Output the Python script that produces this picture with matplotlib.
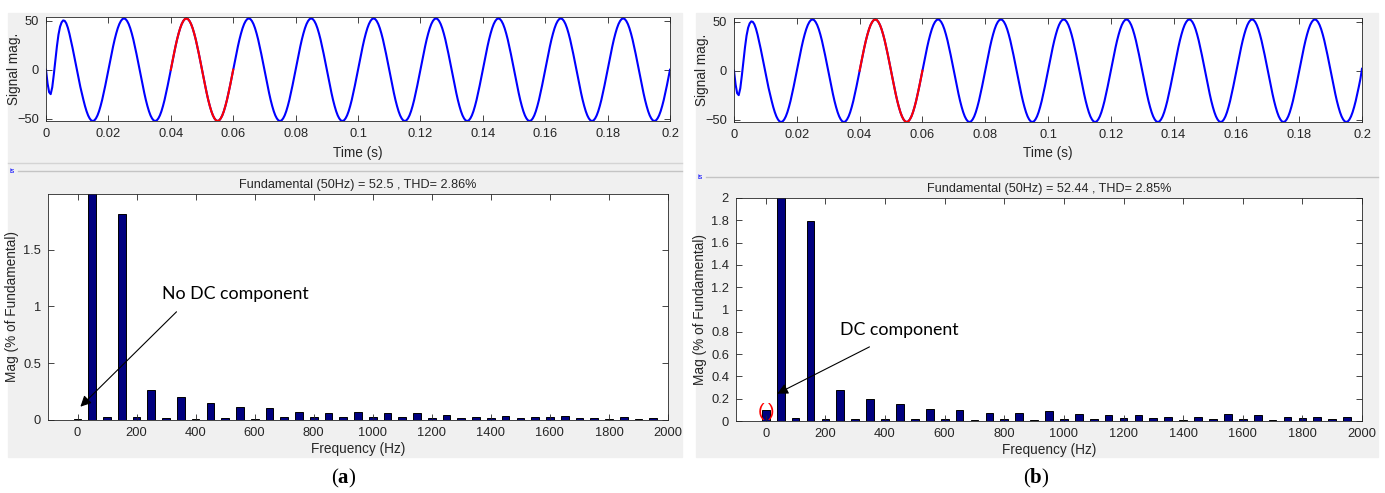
import numpy as np
import matplotlib
matplotlib.use('Agg')
import matplotlib.pyplot as plt
from matplotlib.lines import Line2D
from matplotlib.patches import Rectangle

W, H = 1385, 493

# time signal, one sample every 0.5 ms (first cycle has the start-up dip)
startup_cycle = [0, -14, -23, -25, -18, -5, 10, 24, 36, 44,
                 48.5, 50.5, 50, 47.5, 43, 37, 30, 22.5, 14.5, 6.5,
                 -1.5, -9.5, -17.5, -24.5, -31, -37.2, -42.5, -46.8, -49.9, -51.9,
                 -52.5, -51.9, -49.9, -46.8, -42.5, -37.1, -30.9, -23.8, -16.2, -8.2]
steady_cycle = [0, 8.2, 16.2, 23.8, 30.9, 37.1, 42.5, 46.8, 49.9, 51.9,
                52.5, 51.9, 49.9, 46.8, 42.5, 37.1, 30.9, 23.8, 16.2, 8.2,
                0, -8.2, -16.2, -23.8, -30.9, -37.1, -42.5, -46.8, -49.9, -51.9,
                -52.5, -51.9, -49.9, -46.8, -42.5, -37.1, -30.9, -23.8, -16.2, -8.2]
signal_a = startup_cycle + steady_cycle * 9 + [0]
signal_b = startup_cycle + steady_cycle * 9 + [2]
time_s = np.linspace(0, 0.2, len(signal_a))
fft_window = (0.04, 0.06)

# harmonic spectrum (% of fundamental), 0..1950 Hz in 50 Hz steps
harm_freq = np.arange(0, 2000, 50)
mag_a = [0.01, 100, 0.03, 1.81, 0.025, 0.265, 0.015, 0.205, 0.006, 0.153,
         0.015, 0.118, 0.006, 0.109, 0.024, 0.071, 0.024, 0.065, 0.03, 0.071,
         0.03, 0.059, 0.024, 0.059, 0.018, 0.044, 0.015, 0.03, 0.015, 0.038,
         0.015, 0.03, 0.024, 0.038, 0.018, 0.02, 0.009, 0.03, 0.009, 0.015]
mag_b = [0.1, 100, 0.03, 1.79, 0.018, 0.28, 0.018, 0.195, 0.018, 0.15,
         0.018, 0.105, 0.018, 0.1, 0.009, 0.069, 0.018, 0.069, 0.009, 0.09,
         0.018, 0.06, 0.018, 0.054, 0.024, 0.054, 0.024, 0.039, 0.009, 0.033,
         0.018, 0.06, 0.018, 0.054, 0.009, 0.033, 0.027, 0.039, 0.018, 0.033]
title_a = 'Fundamental (50Hz) = 52.5 , THD= 2.86%'
title_b = 'Fundamental (50Hz) = 52.44 , THD= 2.85%'

TXT = '#262626'
FS = 9.3
plt.rcParams['font.family'] = ['Liberation Sans', 'DejaVu Sans']
plt.rcParams['mathtext.fontset'] = 'custom'
plt.rcParams['mathtext.rm'] = 'Liberation Serif'
plt.rcParams['mathtext.bf'] = 'Liberation Serif:bold'

fig = plt.figure(figsize=(W / 100, H / 100), dpi=100)


def px_axes(l, t, r, b):
    ax = fig.add_axes([l / W, 1 - b / H, (r - l) / W, (b - t) / H])
    ax.tick_params(direction='in', top=True, right=True, length=4, width=0.6,
                   labelsize=FS, colors=TXT, pad=5)
    for s in ax.spines.values():
        s.set_linewidth(0.6)
        s.set_color(TXT)
    return ax


def fig_line(x0, x1, y, color):
    fig.add_artist(Line2D([x0 / W, x1 / W], [1 - y / H, 1 - y / H],
                          transform=fig.transFigure, color=color, lw=1))


def draw_panel(x0, x1, sig, mags, title, yticks, ylim, boxes, label_x, tag):
    fig.add_artist(Rectangle((x0 / W, 1 - 457 / H), (x1 - x0) / W, (457 - 13) / H,
                             transform=fig.transFigure, color='#f0f0f0', zorder=-5))
    (tl, tt, tr, tb), (bl, bt, br, bb) = boxes

    ax = px_axes(tl, tt, tr, tb)
    ax.plot(time_s, sig, color='blue', lw=1.5)
    red = (time_s >= fft_window[0]) & (time_s <= fft_window[1])
    ax.plot(time_s[red], np.array(sig)[red], color='red', lw=1.5)
    ax.set_xlim(0, 0.2)
    ax.set_ylim(-52.5, 54)
    ax.set_xticks(np.arange(0, 0.201, 0.02))
    ax.set_xticklabels(['%g' % v for v in np.round(np.arange(0, 0.201, 0.02), 2)])
    ax.set_yticks([-50, 0, 50])
    ax.set_xlabel('Time (s)', fontsize=FS + 0.5, color=TXT, labelpad=4)
    ax.set_ylabel('Signal mag.', fontsize=FS + 0.5, color=TXT)
    ax.yaxis.set_label_coords((label_x + 6 - tl) / (tr - tl), 0.5)

    ax2 = px_axes(bl, bt, br, bb)
    ax2.bar(harm_freq, mags, width=26, color='#00007f', edgecolor='black', lw=0.7)
    ax2.set_xlim(-100, 2000)
    ax2.set_ylim(*ylim)
    ax2.set_xticks(np.arange(0, 2001, 200))
    ax2.set_yticks(yticks)
    ax2.set_yticklabels(['%g' % v for v in yticks])
    ax2.set_xlabel('Frequency (Hz)', fontsize=FS + 0.5, color=TXT, labelpad=2)
    ax2.set_ylabel('Mag (% of Fundamental)', fontsize=FS + 0.5, color=TXT)
    ax2.yaxis.set_label_coords((label_x + 4 - bl) / (br - bl), 0.5)
    ax2.text(0.5, 1.04, title, transform=ax2.transAxes, ha='center', va='center',
             fontsize=FS - 0.2, color=TXT)

    fig.text(((x0 + x1) / 2 - 1) / W, 1 - 478 / H, r'($\mathbf{%s}$)' % tag,
             ha='center', va='center', fontsize=15, family='Liberation Serif')
    return ax, ax2


_, axa = draw_panel(8, 682, signal_a, mag_a, title_a, [0, 0.5, 1, 1.5], (0, 1.99),
                    [(46, 17, 670, 121), (48, 194, 668, 420)], 15, 'a')
_, axb = draw_panel(696, 1378, signal_b, mag_b, title_b, np.round(np.arange(0, 2.01, 0.2), 1),
                    (0, 2), [(734, 18, 1362, 122), (736, 198, 1362, 421)], 703, 'b')

# GUI separators with the cut-off panel caption
fig_line(8, 682, 163, '#d4d4d4')
fig_line(18, 682, 171, '#c4c4c4')
fig.text(10 / W, 1 - 172 / H, 'is', color='blue', fontsize=5, va='center')
fig_line(706, 1378, 177, '#c4c4c4')
fig.text(697 / W, 1 - 177 / H, 'is', color='blue', fontsize=5, va='center')

# annotations
axa.annotate('', xy=(3, 0.1), xytext=(342, 0.97),
             arrowprops=dict(arrowstyle='-|>', color='black', lw=0.8, mutation_scale=16))
axa.text(285, 1.11, 'No DC component', family='Lato', fontsize=12.8, va='center')
axb.annotate('', xy=(30, 0.234), xytext=(356, 0.676),
             arrowprops=dict(arrowstyle='-|>', color='black', lw=0.8, mutation_scale=16))
axb.text(248, 0.82, 'DC component', family='Lato', fontsize=12.8, va='center')
axb.text(-17, 0.085, '(', color='red', fontsize=14, ha='center', va='center', clip_on=False)
axb.text(18, 0.085, ')', color='red', fontsize=14, ha='center', va='center', clip_on=False)

fig.savefig('out.png', dpi=100)
